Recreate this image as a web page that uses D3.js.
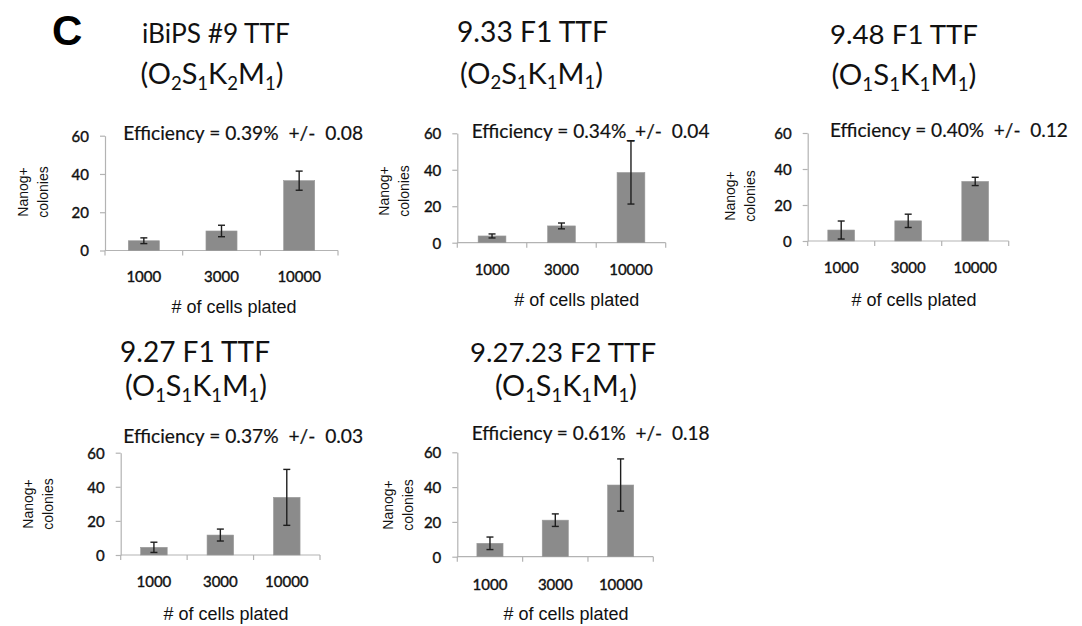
<!DOCTYPE html>
<html>
<head>
<meta charset="utf-8">
<script src="https://cdn.jsdelivr.net/npm/d3@7"></script>
<style>
  html, body { margin: 0; padding: 0; background: #fff; }
  svg { display: block; }
  text { white-space: pre; }
</style>
</head>
<body>
<svg id="chart" width="1082" height="626"></svg>
<script>
// ---------------- DATA ----------------
const categories = ["1000", "3000", "10000"];
const yTicks = [0, 20, 40, 60];
const panelLetter = "C";
const xAxisTitle = "# of cells plated";
const yAxisTitle = ["Nanog+", "colonies"];

const panelTitles = ["iBiPS #9 TTF", "9.33 F1 TTF", "9.48 F1 TTF", "9.27 F1 TTF", "9.27.23 F2 TTF"];
const panelFormulas = [
  [["O", "2"], ["S", "1"], ["K", "2"], ["M", "1"]],
  [["O", "2"], ["S", "1"], ["K", "1"], ["M", "1"]],
  [["O", "1"], ["S", "1"], ["K", "1"], ["M", "1"]],
  [["O", "1"], ["S", "1"], ["K", "1"], ["M", "1"]],
  [["O", "1"], ["S", "1"], ["K", "1"], ["M", "1"]]
];
const efficiencyLabels = [
  "Efficiency = 0.39%  +/-  0.08",
  "Efficiency = 0.34%_+/-  0.04",
  "Efficiency = 0.40%  +/-  0.12",
  "Efficiency = 0.37%  +/-  0.03",
  "Efficiency = 0.61%  +/-  0.18"
];

const iBiPS9Means   = [5.1, 10.2, 36.5];
const iBiPS9Errors  = [1.5, 3.0, 5.0];
const f933Means     = [3.7, 9.2, 38.5];
const f933Errors    = [1.1, 1.6, 17.3];
const f948Means     = [6.1, 11.2, 33.1];
const f948Errors    = [5.0, 3.7, 2.3];
const f927Means     = [4.5, 11.7, 33.8];
const f927Errors    = [3.0, 3.5, 16.4];
const f92723Means   = [7.7, 21.0, 41.2];
const f92723Errors  = [3.6, 3.6, 15.0];

const panelMeans  = [iBiPS9Means, f933Means, f948Means, f927Means, f92723Means];
const panelErrors = [iBiPS9Errors, f933Errors, f948Errors, f927Errors, f92723Errors];

// ---------------- LAYOUT ----------------
const layout = [
  { x0: 105,   x1: 338,   yBase: 250.5, yTop: 135.7,
    t1: [216, 43.3, 148], t2: [212, 84, 143], eff: [123.3, 140, 240],
    tickY: 282, xl: [234, 313], yl: [28, 192] },
  { x0: 457.3, x1: 665.7, yBase: 242.7, yTop: 133.3,
    t1: [532.5, 41.7, 151], t2: [531.5, 83.5, 143], eff: [471.7, 138.3, 238],
    tickY: 275, xl: [576.7, 306], yl: [389, 191] },
  { x0: 807.7, x1: 1008.7, yBase: 241, yTop: 133,
    t1: [904, 44.3, 148], t2: [904, 85, 145], eff: [830, 136.7, 238],
    tickY: 273, xl: [914, 306], yl: [735, 196] },
  { x0: 120.7, x1: 320,   yBase: 555,   yTop: 452.7,
    t1: [195, 361.7, 150], t2: [196, 396, 142], eff: [123.3, 443, 240],
    tickY: 587, xl: [226, 619.6], yl: [33, 504] },
  { x0: 457.3, x1: 653.3, yBase: 556.7, yTop: 452.3,
    t1: [563, 361.7, 186], t2: [566, 396, 142], eff: [471.7, 440, 238],
    tickY: 590, xl: [566, 619.6], yl: [393, 505] }
];

const calibriLike = "Lato, 'Open Sans', sans-serif";
const arialLike = "'Liberation Sans', Arial, sans-serif";
const barColor = "#8b8b8b";
const axisColor = "#b3b3b3";
const textColor = "#111";

const svg = d3.select("#chart");

function fitWidth(sel, target) {
  const base = parseFloat(sel.attr("font-size"));
  const w = sel.node().getComputedTextLength();
  if (w > 0) sel.attr("font-size", (base * target / w).toFixed(2));
}

// Panel letter
svg.append("text")
  .attr("x", 52).attr("y", 45)
  .attr("font-family", arialLike).attr("font-weight", "bold")
  .attr("font-size", 42).attr("fill", "#000")
  .text(panelLetter);

layout.forEach((L, i) => {
  const g = svg.append("g");

  const x = d3.scaleBand()
    .domain(categories)
    .range([L.x0, L.x1])
    .paddingInner(0.6)
    .paddingOuter(0.3);
  const y = d3.scaleLinear().domain([0, 60]).range([L.yBase, L.yTop]);

  // Title line 1
  const t1 = g.append("text")
    .attr("x", L.t1[0]).attr("y", L.t1[1])
    .attr("text-anchor", "middle")
    .attr("font-family", calibriLike).attr("font-size", 24)
    .attr("fill", textColor)
    .text(panelTitles[i]);
  fitWidth(t1, L.t1[2]);

  // Title line 2 with subscripts
  const t2 = g.append("text")
    .attr("x", L.t2[0]).attr("y", L.t2[1])
    .attr("text-anchor", "middle")
    .attr("font-family", calibriLike).attr("font-size", 24)
    .attr("fill", textColor);
  t2.append("tspan").text("(");
  panelFormulas[i].forEach(([sym, n], k) => {
    const main = t2.append("tspan").text(sym);
    if (k > 0) main.attr("dy", "-0.2em");
    t2.append("tspan").attr("font-size", "0.64em").attr("dy", "0.3125em").text(n);
  });
  t2.append("tspan").attr("dy", "-0.2em").text(")");
  fitWidth(t2, L.t2[2]);

  // Efficiency label
  const eff = g.append("text")
    .attr("x", L.eff[0]).attr("y", L.eff[1])
    .attr("font-family", calibriLike).attr("font-size", 18)
    .attr("fill", textColor)
    .attr("stroke", textColor).attr("stroke-width", 0.2)
    .text(efficiencyLabels[i]);
  fitWidth(eff, L.eff[2]);

  // Y axis
  const yAxis = g.append("g")
    .attr("transform", `translate(${L.x0},0)`)
    .call(d3.axisLeft(y).tickValues(yTicks).tickSizeInner(5).tickSizeOuter(0).tickPadding(11));
  yAxis.select(".domain").attr("stroke", axisColor).attr("stroke-width", 1.2);
  yAxis.selectAll(".tick line").attr("stroke", axisColor).attr("stroke-width", 1.2);
  yAxis.selectAll(".tick text")
    .attr("font-family", calibriLike).attr("font-size", 15)
    .attr("fill", textColor).attr("stroke", textColor).attr("stroke-width", 0.4)
    .attr("dy", "0.36em");

  // X axis baseline and boundary ticks
  const step = x.step();
  const start = x.range()[0];
  g.append("line")
    .attr("x1", L.x0).attr("x2", L.x1)
    .attr("y1", y(0)).attr("y2", y(0))
    .attr("stroke", axisColor).attr("stroke-width", 1.2);
  g.selectAll(".xb").data(d3.range(categories.length + 1)).join("line")
    .attr("x1", k => start + k * step).attr("x2", k => start + k * step)
    .attr("y1", y(0)).attr("y2", y(0) + 5)
    .attr("stroke", axisColor).attr("stroke-width", 1.2);

  // X tick labels
  g.selectAll(".xl").data(categories).join("text")
    .attr("x", d => x(d) + x.bandwidth() / 2)
    .attr("y", L.tickY)
    .attr("text-anchor", "middle")
    .attr("font-family", calibriLike).attr("font-size", 15)
    .attr("fill", textColor).attr("stroke", textColor).attr("stroke-width", 0.4)
    .text(d => d);

  // Bars
  const rows = categories.map((c, k) => ({ c, v: panelMeans[i][k], e: panelErrors[i][k] }));
  g.selectAll(".bar").data(rows).join("rect")
    .attr("x", d => x(d.c))
    .attr("width", x.bandwidth())
    .attr("y", d => y(d.v))
    .attr("height", d => y(0) - y(d.v))
    .attr("fill", barColor)
    .attr("stroke", "#9a9a9a").attr("stroke-width", 0.6);

  // Error bars
  const capW = 7;
  const eb = g.selectAll(".err").data(rows).join("g");
  eb.append("line")
    .attr("x1", d => x(d.c) + x.bandwidth() / 2).attr("x2", d => x(d.c) + x.bandwidth() / 2)
    .attr("y1", d => y(d.v + d.e)).attr("y2", d => y(Math.max(0, d.v - d.e)))
    .attr("stroke", "#1e1e1e").attr("stroke-width", 1.4);
  [d => d.v + d.e, d => Math.max(0, d.v - d.e)].forEach(fn => {
    eb.append("line")
      .attr("x1", d => x(d.c) + x.bandwidth() / 2 - capW / 2)
      .attr("x2", d => x(d.c) + x.bandwidth() / 2 + capW / 2)
      .attr("y1", d => y(fn(d))).attr("y2", d => y(fn(d)))
      .attr("stroke", "#1e1e1e").attr("stroke-width", 1.4);
  });

  // X axis title
  g.append("text")
    .attr("x", L.xl[0]).attr("y", L.xl[1])
    .attr("text-anchor", "middle")
    .attr("font-family", arialLike).attr("font-size", 18)
    .attr("fill", textColor)
    .text(xAxisTitle);

  // Y axis title (two rotated lines)
  yAxisTitle.forEach((line, k) => {
    g.append("text")
      .attr("transform", `translate(${L.yl[0] + k * 20},${L.yl[1]}) rotate(-90)`)
      .attr("text-anchor", "middle")
      .attr("font-family", arialLike).attr("font-size", 14)
      .attr("fill", textColor)
      .text(line);
  });
});
</script>
</body>
</html>
